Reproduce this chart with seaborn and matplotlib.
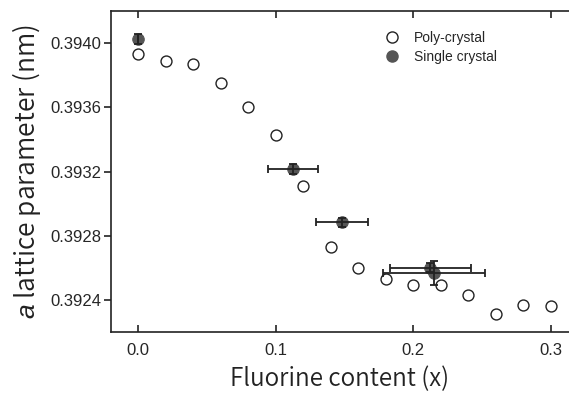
import matplotlib
matplotlib.use("Agg")
import matplotlib.pyplot as plt
import seaborn as sns
import pandas as pd
from matplotlib.lines import Line2D

# Poly-crystal data
poly_x = [0.00, 0.02, 0.04, 0.06, 0.08, 0.10, 0.12, 0.14, 0.16, 0.18, 0.20, 0.22, 0.24, 0.26, 0.28, 0.30]
poly_a = [0.39393, 0.39389, 0.39387, 0.39375, 0.39360, 0.39343, 0.39311, 0.39273,
          0.39260, 0.39253, 0.39249, 0.39249, 0.39243, 0.39231, 0.39237, 0.39236]

# Single crystal data
single_x = [0.000, 0.1125, 0.1484, 0.2124, 0.2148]
single_a = [0.394027, 0.393217, 0.392883, 0.392601, 0.392567]
single_xerr = [0.0, 0.018, 0.019, 0.0295, 0.037]
single_yerr = [0.00003, 0.00003, 0.00003, 0.00003, 0.000075]

xticks = [0.0, 0.1, 0.2, 0.3]
yticks = [0.3924, 0.3928, 0.3932, 0.3936, 0.3940]

sns.set_style("white")
plt.rcParams['font.family'] = ['Liberation Sans', 'DejaVu Sans']
plt.rcParams['mathtext.fontset'] = 'custom'
plt.rcParams['mathtext.it'] = 'Liberation Sans:italic'

fig = plt.figure(figsize=(5.69, 3.96), dpi=100)
ax = fig.add_axes([111/569, 64/396, 458/569, 321/396])

poly_df = pd.DataFrame({"x": poly_x, "a": poly_a})
single_df = pd.DataFrame({"x": single_x, "a": single_a})

sns.scatterplot(data=poly_df, x="x", y="a", ax=ax, s=62, marker="o",
                facecolor="white", edgecolor="#222222", linewidth=1.0, zorder=3, legend=False)

ax.errorbar(single_x, single_a, xerr=single_xerr, yerr=single_yerr, fmt="none",
            ecolor="#222222", elinewidth=1.3, capsize=2.8, capthick=1.3, zorder=5)
sns.scatterplot(data=single_df, x="x", y="a", ax=ax, s=68, marker="o",
                color="#555555", edgecolor="#555555", linewidth=0.8, zorder=4, legend=False)

ax.set_xlim(-0.0196, 0.3131)
ax.set_ylim(0.39220, 0.39420)
ax.set_xticks(xticks)
ax.set_xticklabels([f"{v:.1f}" for v in xticks])
ax.set_yticks(yticks)
ax.set_yticklabels([f"{v:.4f}" for v in yticks])

for side in ["left", "bottom", "top"]:
    ax.spines[side].set_visible(True)
    ax.spines[side].set_color("#222222")
    ax.spines[side].set_linewidth(1.2)
ax.spines["right"].set_visible(False)

ax.tick_params(axis="y", direction="out", length=5, width=1.2, color="#222222",
               labelsize=12, pad=2, left=True)
ax.tick_params(axis="x", direction="in", length=5, width=1.2, color="#222222",
               labelsize=12, pad=8, bottom=True, top=True)

ax.set_xlabel("Fluorine content (x)", fontsize=17.5, family=["Noto Sans CJK JP", "DejaVu Sans"],
              fontweight=350, labelpad=6, color="#222222")
ax.set_ylabel(r"$\it{a}$ lattice parameter (nm)", fontsize=19, fontweight=350,
              family=["Noto Sans CJK JP", "DejaVu Sans"], labelpad=5, color="#222222")

handles = [
    Line2D([], [], marker="o", linestyle="none", markersize=8, markerfacecolor="white",
           markeredgecolor="#222222", markeredgewidth=1.0, label="Poly-crystal"),
    Line2D([], [], marker="o", linestyle="none", markersize=8, markerfacecolor="#555555",
           markeredgecolor="#555555", label="Single crystal"),
]
ax.legend(handles=handles, loc="upper left", bbox_to_anchor=(0.561, 0.967), frameon=False,
          fontsize=10, handletextpad=0.6, labelspacing=0.35, borderaxespad=0.3)

fig.savefig("out.png", dpi=100)
